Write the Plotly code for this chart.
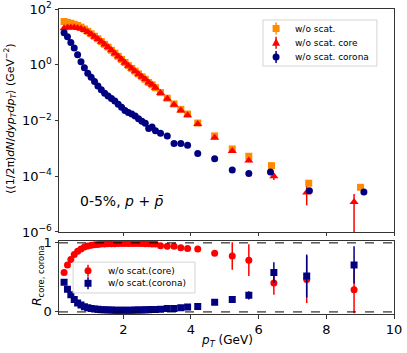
import plotly.graph_objects as go

# pT bins (GeV): dense low-pT part + sparse high-pT part shared by all series
pt_base = [0.25, 0.35, 0.45, 0.55, 0.65, 0.75, 0.85, 0.95, 1.05, 1.15,
           1.25, 1.35, 1.45, 1.55, 1.65, 1.75, 1.85, 1.95, 2.05, 2.15,
           2.25, 2.35, 2.45, 2.55, 2.65, 2.75, 2.85, 2.95,
           3.1, 3.3, 3.5, 3.7, 3.9, 4.2, 4.7, 5.22, 5.71]
pt_tail_all = [6.38, 7.48, 9.01]
pt_tail_core = [6.45, 7.42, 8.82]
pt_tail_corona = [6.35, 7.5, 9.11]
pt_tail_ratio = [6.45, 7.42, 8.82]

# spectra (GeV^-2)
spec_all = [35.5, 33.1, 30.9, 28.2, 25.7, 22.4, 19.1, 15.8, 12.9, 10.5,
            8.5, 6.8, 5.4, 4.3, 3.3, 2.6, 2.0, 1.55, 1.2, 0.93,
            0.74, 0.59, 0.47, 0.37, 0.30, 0.23, 0.19, 0.15,
            0.10, 0.063, 0.039, 0.025, 0.017, 8.1e-3, 2.8e-3, 9.5e-4, 5.2e-4,
            2.4e-4, 5.6e-5, 4.0e-5]
spec_core = [20.2, 21.5, 21.8, 21.5, 20.8, 19.6, 17.6, 15.1, 12.4, 10.2,
             8.3, 6.7, 5.3, 4.2, 3.3, 2.55, 1.98, 1.53, 1.19, 0.92,
             0.73, 0.58, 0.46, 0.37, 0.30, 0.23, 0.19, 0.15,
             0.097, 0.060, 0.037, 0.023, 0.0155, 7.4e-3, 2.4e-3, 8.1e-4, 3.7e-4,
             1.0e-4, 2.6e-5, 1.2e-5]
spec_core_err = [0] * 35 + [4e-5, 5e-5, 2.7e-5, 1.7e-5, 1.1e-5]
spec_corona = [14.1, 10.0, 6.3, 4.0, 2.3, 1.29, 0.78, 0.50, 0.355, 0.25,
               0.174, 0.126, 0.095, 0.076, 0.062, 0.050, 0.038, 0.030, 0.023, 0.0195,
               0.017, 0.0145, 0.0115, 0.0093, 0.0079, 0.0052, 0.0058, 0.0043,
               0.0035, 0.0028, 0.0015, 0.0015, 0.0013, 6.5e-4, 4.2e-4, 1.66e-4, 1.26e-4,
               1.41e-4, 3.0e-5, 2.7e-5]

# core / corona fractions
r_core = [0.57, 0.68, 0.76, 0.83, 0.88, 0.91, 0.94, 0.955, 0.965, 0.973,
          0.978, 0.982, 0.985, 0.987, 0.988, 0.989, 0.99, 0.99, 0.99, 0.99,
          0.99, 0.99, 0.99, 0.99, 0.988, 0.988, 0.985, 0.985,
          0.96, 0.95, 0.95, 0.93, 0.92, 0.91, 0.85, 0.81, 0.75,
          0.42, 0.47, 0.32]
r_core_err = [0] * 28 + [0.01, 0.01, 0.01, 0.015, 0.02, 0.02, 0.04, 0.2, 0.23,
                         0.17, 0.34, 0.34]
r_corona = [0.43, 0.33, 0.25, 0.18, 0.13, 0.10, 0.075, 0.06, 0.05, 0.043,
            0.037, 0.033, 0.03, 0.028, 0.027, 0.026, 0.025, 0.025, 0.025, 0.026,
            0.026, 0.027, 0.028, 0.029, 0.03, 0.032, 0.034, 0.036,
            0.04, 0.05, 0.05, 0.06, 0.07, 0.08, 0.14, 0.18, 0.24,
            0.57, 0.52, 0.68]
r_corona_err = [0] * 28 + [0.005, 0.005, 0.005, 0.01, 0.01, 0.01, 0.02, 0.03, 0.06,
                           0.15, 0.31, 0.27]

font = "DejaVu Sans"
orange, red, navy = "#ff8c00", "#ff0000", "#000080"

fig = go.Figure()
fig.add_trace(go.Scatter(x=pt_base + pt_tail_all, y=spec_all, mode="markers", name="w/o scat.",
                         marker=dict(symbol="square", size=7, color=orange),
                         xaxis="x", yaxis="y"))
fig.add_trace(go.Scatter(x=pt_base + pt_tail_core, y=spec_core, mode="markers", name="w/o scat. core",
                         marker=dict(symbol="triangle-up", size=8, color=red),
                         error_y=dict(type="data", array=spec_core_err, color=red, thickness=1.5, width=0),
                         xaxis="x", yaxis="y"))
fig.add_trace(go.Scatter(x=pt_base + pt_tail_corona, y=spec_corona, mode="markers", name="w/o scat. corona",
                         marker=dict(symbol="circle", size=7, color=navy),
                         xaxis="x", yaxis="y"))

fig.add_trace(go.Scatter(x=pt_base + pt_tail_ratio, y=r_core, mode="markers", name="w/o scat.(core)",
                         marker=dict(symbol="circle", size=7, color=red),
                         error_y=dict(type="data", array=r_core_err, color=red, thickness=1.5, width=0),
                         xaxis="x2", yaxis="y2"))
fig.add_trace(go.Scatter(x=pt_base + pt_tail_ratio, y=r_corona, mode="markers", name="w/o scat.(corona)",
                         marker=dict(symbol="square", size=7, color=navy),
                         error_y=dict(type="data", array=r_corona_err, color=navy, thickness=1.5, width=0),
                         xaxis="x2", yaxis="y2"))

axis_common = dict(showline=True, linecolor="#333", linewidth=1, mirror=True,
                   ticks="outside", ticklen=3.5, tickcolor="#333", showgrid=False,
                   zeroline=False, automargin=False,
                   tickfont=dict(size=13, family=font, color="black"))


# hand-made legends (matplotlib style: compact rows)
def legend_box(x0, x1, y0, y1):
    return dict(type="rect", xref="paper", yref="paper", x0=x0, x1=x1, y0=y0, y1=y1,
                fillcolor="rgba(255,255,255,0.8)", line=dict(color="#d4d4d4", width=1),
                layer="above")


def legend_marker(x, y, kind, color):
    base = dict(xref="paper", yref="paper", xsizemode="pixel", ysizemode="pixel",
                xanchor=x, yanchor=y, layer="above")
    bar = dict(base, type="line", x0=0, x1=0, y0=-6, y1=6, line=dict(color=color, width=1.5))
    if kind == "square":
        m = dict(base, type="rect", x0=-3.5, x1=3.5, y0=-3.5, y1=3.5,
                 fillcolor=color, line=dict(width=0))
    elif kind == "circle":
        m = dict(base, type="circle", x0=-3.5, x1=3.5, y0=-3.5, y1=3.5,
                 fillcolor=color, line=dict(width=0))
    else:
        m = dict(base, type="path", path="M-4,-3 L4,-3 L0,4.5 Z",
                 fillcolor=color, line=dict(width=0))
    return [bar, m]


def legend_text(x, y, text):
    return dict(text=text, xref="paper", yref="paper", x=x, y=y, xanchor="left",
                yanchor="middle", showarrow=False, font=dict(size=9, family=font))


top_rows = [(0.936, "square", orange, "w/o scat."),
            (0.889, "triangle", red, "w/o scat. core"),
            (0.843, "circle", navy, "w/o scat. corona")]
bot_rows = [(0.142, "circle", red, "w/o scat.(core)"),
            (0.1007, "square", navy, "w/o scat.(corona)")]

shapes = [
    dict(type="line", xref="x2 domain", yref="y2", x0=0, x1=1, y0=1, y1=1,
         line=dict(color="black", width=1, dash="dash")),
    dict(type="line", xref="x2 domain", yref="y2", x0=0, x1=1, y0=0, y1=0,
         line=dict(color="black", width=1, dash="dash")),
    legend_box(0.609, 0.949, 0.813, 0.964),
    legend_box(0.042, 0.406, 0.069, 0.170),
]
annotations = []
for y, kind, color, text in top_rows:
    shapes += legend_marker(0.648, y, kind, color)
    annotations.append(legend_text(0.6985, y, text))
for y, kind, color, text in bot_rows:
    shapes += legend_marker(0.0866, y, kind, color)
    annotations.append(legend_text(0.140, y, text))

annotations += [
    dict(text="0-5%, <i>p</i> + <i>p̄</i>", xref="paper", yref="paper",
         x=0.188, y=0.37, xanchor="center", yanchor="middle", showarrow=False,
         font=dict(size=14, family=font)),
    dict(text="⟨(1/2π)<i>dN</i>/<i>dyp<sub>T</sub>dp<sub>T</sub></i>⟩ (GeV<sup>−2</sup>)",
         xref="paper", yref="paper", x=-0.146, y=0.64, xanchor="center", yanchor="middle",
         textangle=-90, showarrow=False, font=dict(size=11, family=font)),
    dict(text="<i>R</i><sub>core, corona</sub>", xref="paper", yref="paper",
         x=-0.063, y=0.125, xanchor="center", yanchor="middle",
         textangle=-90, showarrow=False, font=dict(size=12, family=font)),
    dict(text="<i>p<sub>T</sub></i> (GeV)", xref="paper", yref="paper",
         x=0.5, y=-0.09, xanchor="center", yanchor="middle", showarrow=False,
         font=dict(size=12, family=font)),
]

fig.update_layout(
    width=407, height=353,
    margin=dict(l=59, r=13, t=9, b=39, autoexpand=False),
    paper_bgcolor="white", plot_bgcolor="white",
    font=dict(family=font, color="black"),
    showlegend=False,
    xaxis=dict(axis_common, domain=[0, 1], range=[0.1, 10], anchor="y",
               showticklabels=False, tickvals=[2, 4, 6, 8, 10]),
    yaxis=dict(axis_common, domain=[0.269, 1], type="log", range=[-6, 2], anchor="x",
               tickvals=[1e-6, 1e-4, 1e-2, 1, 100],
               ticktext=["10<sup>−6</sup>", "10<sup>−4</sup>", "10<sup>−2</sup>",
                         "10<sup>0</sup>", "10<sup>2</sup>"]),
    xaxis2=dict(axis_common, domain=[0, 1], range=[0.1, 10], anchor="y2",
                tickvals=[2, 4, 6, 8, 10]),
    yaxis2=dict(axis_common, domain=[0, 0.24], range=[-0.03, 1.03], anchor="x2",
                tickvals=[0, 1]),
    shapes=shapes,
    annotations=annotations,
)

# the page body has a default 8px margin; drop it so the figure sits at the window corner
fig.write_html("out.html", config={"displayModeBar": False},
               post_script="document.body.style.margin='0px';")
